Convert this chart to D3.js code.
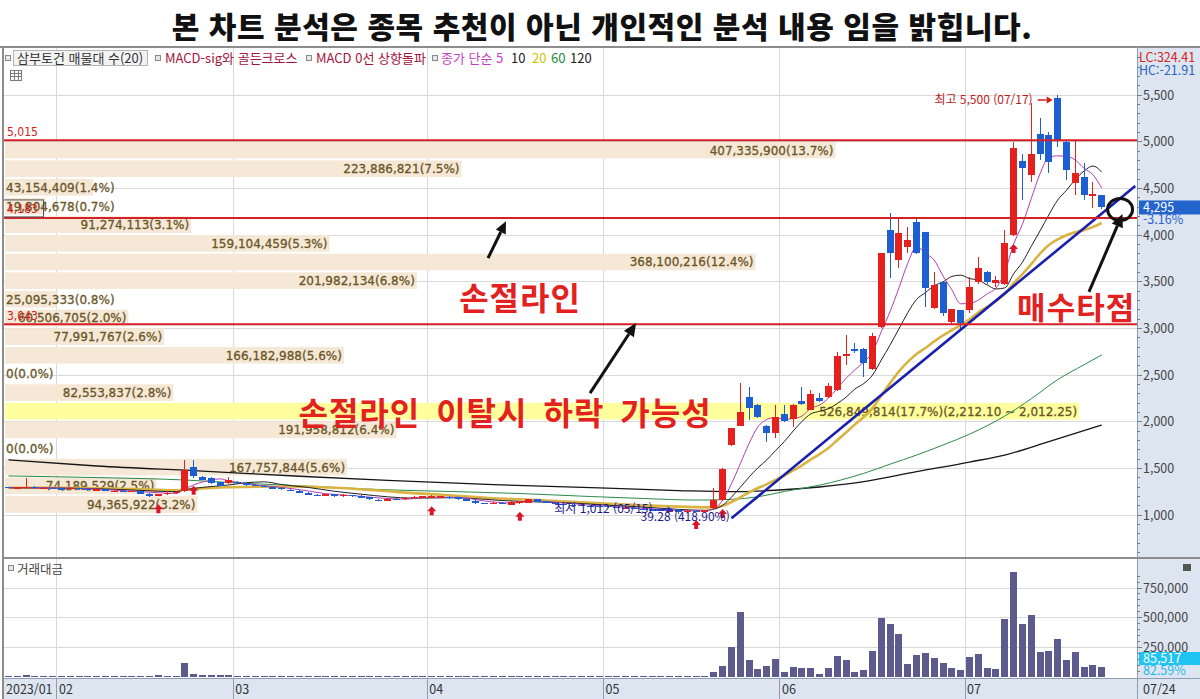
<!DOCTYPE html>
<html lang="ko"><head><meta charset="utf-8"><title>삼부토건 차트</title>
<script src="https://cdn.jsdelivr.net/npm/d3@7/dist/d3.min.js"></script>
<style>
html,body{margin:0;padding:0;background:#fff;overflow:hidden}
svg{display:block}
text{font-family:"Noto Sans CJK KR","Noto Sans",sans-serif}
</style></head>
<body><svg id="chart" width="1200" height="699"></svg>
<script>
// ================= DATA =================
const dates = [
"01/20","01/25","01/26","01/27","01/30","01/31",
"02/01","02/02","02/03","02/06","02/07","02/08","02/09","02/10","02/13","02/14","02/15","02/16","02/17","02/20","02/21","02/22","02/23","02/24","02/27","02/28",
"03/02","03/03","03/06","03/07","03/08","03/09","03/10","03/13","03/14","03/15","03/16","03/17","03/20","03/21","03/22","03/23","03/24","03/27","03/28","03/29","03/30","03/31",
"04/03","04/04","04/05","04/06","04/07","04/10","04/11","04/12","04/13","04/14","04/17","04/18","04/19","04/20","04/21","04/24","04/25","04/26","04/27","04/28",
"05/02","05/03","05/04","05/08","05/09","05/10","05/11","05/12","05/15","05/16","05/17","05/18","05/19","05/22","05/23","05/24","05/25","05/26","05/30","05/31",
"06/01","06/02","06/05","06/07","06/08","06/09","06/12","06/13","06/14","06/15","06/16","06/19","06/20","06/21","06/22","06/23","06/26","06/27","06/28","06/29","06/30",
"07/03","07/04","07/05","07/06","07/07","07/10","07/11","07/12","07/13","07/14","07/17","07/18","07/19","07/20","07/21","07/24"];

const open = [
1298,1292,1295,1300,1290,1294,
1285,1280,1290,1278,1268,1275,1262,1262,1250,1255,1228,1205,1220,1235,1260,1517,1410,1400,1350,1340,
1357,1340,1320,1315,1296,1290,1272,1260,1240,1215,1205,1220,1200,1215,1205,1195,1162,1150,1175,1170,1180,1186,
1186,1188,1196,1196,1168,1153,1126,1118,1130,1107,1125,1132,1168,1150,1132,1118,1110,1108,1100,1095,
1095,1085,1075,1080,1068,1060,1058,1045,1050,1040,1048,1040,1075,1160,1745,1953,2263,2178,1953,1878,
2082,2028,2220,2124,2253,2263,2338,2702,2777,2777,2563,3013,4051,3730,3870,4137,4030,3216,3495,3066,3195,
3195,3495,3602,3484,3473,4000,4790,4640,5079,5068,5465,4994,4555,4619,4426,4426];
const high = [
1305,1300,1396,1306,1300,1298,
1292,1295,1292,1282,1282,1278,1270,1265,1262,1258,1232,1228,1262,1258,1590,1589,1415,1405,1355,1410,
1362,1345,1328,1320,1305,1295,1282,1265,1245,1225,1225,1225,1220,1218,1210,1198,1172,1178,1185,1188,1200,1205,
1210,1208,1200,1198,1172,1158,1132,1138,1135,1148,1155,1172,1172,1152,1135,1122,1115,1112,1105,1100,
1098,1090,1088,1082,1072,1065,1060,1058,1055,1052,1050,1055,1289,1500,1937,2413,2370,2190,1960,2178,
2178,2190,2370,2338,2306,2413,2745,2927,2840,2790,2948,3805,4233,4180,4084,4170,4030,3602,3500,3210,3200,
3548,3760,3610,3560,4051,4994,4865,5411,5250,5104,5500,5010,5010,4769,4565,4430];
const low = [
1288,1285,1288,1285,1282,1278,
1275,1275,1270,1262,1262,1258,1255,1245,1245,1220,1198,1200,1215,1228,1250,1400,1375,1335,1310,1335,
1338,1315,1310,1295,1288,1270,1262,1235,1210,1205,1200,1195,1195,1195,1180,1165,1150,1145,1158,1165,1175,1182,
1180,1185,1175,1162,1148,1120,1118,1115,1115,1105,1120,1130,1138,1128,1110,1105,1100,1095,1090,1085,
1080,1070,1070,1062,1055,1052,1040,1040,1012,1035,1032,1035,1065,1150,1740,1950,2017,2038,1781,1824,
2000,1942,2180,2120,2215,2255,2330,2606,2740,2477,2550,3000,3538,3645,3805,3800,3227,3210,3130,3050,2985,
3160,3480,3480,3440,3460,3990,4372,4565,4800,4662,4940,4590,4426,4373,4287,4280];
const close = [
1292,1296,1300,1290,1294,1282,
1280,1290,1275,1268,1275,1262,1262,1250,1258,1225,1205,1222,1235,1250,1482,1420,1380,1340,1315,1375,
1342,1320,1315,1300,1293,1275,1270,1240,1215,1213,1220,1200,1215,1200,1185,1172,1160,1170,1165,1182,1195,1200,
1202,1200,1180,1168,1153,1125,1125,1132,1120,1143,1150,1168,1143,1132,1115,1110,1108,1100,1095,1090,
1085,1075,1080,1068,1060,1058,1045,1050,1040,1048,1040,1050,1160,1490,1937,2103,2146,2050,1878,2050,
2007,2178,2188,2295,2220,2381,2702,2724,2755,2627,2916,3805,3805,4019,3944,3805,3430,3462,3163,3206,3056,
3441,3645,3495,3516,3912,4930,4715,4865,4865,4780,5015,4694,4662,4426,4435,4295];

// 거래대금
const volume = [
9000,8000,14000,8000,7000,8000,
8000,7000,8000,7000,8000,7000,6000,8000,7000,9000,10000,14000,9000,10000,118000,28000,16000,15000,15000,18000,
9000,8000,7000,8000,7000,8000,7000,8000,9000,7000,8000,7000,8000,7000,8000,9000,8000,7000,8000,7000,8000,9000,
8000,7000,8000,7000,8000,7000,8000,7000,9000,8000,7000,8000,7000,8000,9000,8000,7000,8000,7000,8000,
8000,7000,8000,9000,8000,7000,8000,7000,8000,9000,8000,7000,46000,90000,256000,547000,142000,67000,90000,154000,
38000,81000,73000,73000,29000,73000,177000,142000,46000,58000,215000,500000,448000,360000,108000,186000,203000,160000,116000,73000,58000,
169000,195000,73000,64000,491000,884000,448000,526000,212000,221000,317000,142000,212000,81000,99000,85517];

// 종가 단순 이동평균
const ma5 = [["01/20",1292],["01/31",1290],["02/07",1278],["02/14",1250],["02/20",1232],["02/21",1279],["02/22",1322],["02/23",1353],["02/24",1374],["02/27",1387],["02/28",1366],["03/02",1350],["03/06",1322],["03/08",1305],["03/13",1272],["03/16",1228],["03/21",1208],["03/24",1183],["03/29",1170],["04/03",1190],["04/06",1190],["04/11",1150],["04/14",1129],["04/19",1148],["04/24",1130],["04/27",1104],["05/04",1083],["05/11",1060],["05/16",1046],["05/18",1046],
["05/19",1068],["05/22",1158],["05/23",1335],["05/24",1548],["05/25",1767],["05/26",1945],["05/30",2023],["05/31",2045],["06/01",2026],["06/02",2033],["06/05",2060],["06/07",2144],["06/08",2178],["06/09",2252],["06/12",2357],["06/13",2464],["06/14",2556],["06/15",2638],["06/16",2745],["06/19",2965],["06/20",3182],["06/21",3434],["06/22",3698],["06/23",3876],["06/26",3801],["06/27",3732],["06/28",3561],["06/29",3413],["06/30",3263],["07/03",3266],["07/04",3302],["07/05",3369],["07/06",3431],["07/07",3602],["07/10",3900],["07/11",4114],["07/12",4388],["07/13",4657],["07/14",4831],["07/17",4848],["07/18",4844],["07/19",4803],["07/20",4715],["07/21",4646],["07/24",4502]];
const ma10 = [["01/20",1292],["02/06",1284],["02/13",1268],["02/20",1250],["02/21",1270],["02/23",1296],["02/28",1322],["03/03",1346],["03/07",1355],["03/09",1326],["03/14",1295],["03/17",1254],["03/22",1223],["03/27",1195],["03/30",1180],["04/05",1185],["04/10",1175],["04/13",1155],["04/19",1140],["04/25",1128],["05/02",1105],["05/09",1085],["05/15",1060],["05/18",1050],
["05/19",1062],["05/22",1104],["05/23",1192],["05/24",1296],["05/25",1406],["05/26",1506],["05/30",1590],["05/31",1690],["06/01",1787],["06/02",1900],["06/05",2003],["06/07",2083],["06/08",2112],["06/09",2139],["06/12",2195],["06/13",2262],["06/14",2350],["06/15",2408],["06/16",2499],["06/19",2661],["06/20",2823],["06/21",2995],["06/22",3168],["06/23",3310],["06/26",3383],["06/27",3457],["06/28",3498],["06/29",3556],["06/30",3570],["07/03",3533],["07/04",3517],["07/05",3465],["07/06",3422],["07/07",3433],["07/10",3583],["07/11",3708],["07/12",3878],["07/13",4044],["07/14",4216],["07/17",4374],["07/18",4479],["07/19",4595],["07/20",4686],["07/21",4739],["07/24",4675]];
const ma20 = [["01/20",1292],["02/03",1290],["02/13",1278],["02/20",1265],["02/22",1280],["02/27",1295],["03/06",1303],["03/10",1305],["03/17",1292],["03/23",1269],["03/29",1240],["04/05",1212],["04/12",1180],["04/19",1160],["04/26",1135],["05/04",1112],["05/12",1092],["05/18",1082],
["05/19",1080],["05/22",1098],["05/23",1139],["05/24",1189],["05/25",1241],["05/26",1289],["05/30",1328],["05/31",1376],["06/01",1422],["06/02",1477],["06/05",1532],["06/07",1594],["06/08",1652],["06/09",1718],["06/12",1801],["06/13",1884],["06/14",1970],["06/15",2049],["06/16",2143],["06/19",2281],["06/20",2413],["06/21",2539],["06/22",2640],["06/23",2725],["06/26",2789],["06/27",2860],["06/28",2924],["06/29",2982],["06/30",3034],["07/03",3097],["07/04",3170],["07/05",3230],["07/06",3295],["07/07",3371],["07/10",3483],["07/11",3582],["07/12",3688],["07/13",3800],["07/14",3893],["07/17",3953],["07/18",3998],["07/19",4030],["07/20",4054],["07/21",4086],["07/24",4129]];
const ma60 = [["01/20",1418],["02/07",1401],["02/21",1375],["03/02",1343],["03/15",1305],["03/24",1273],["04/05",1252],["04/17",1230],["04/27",1198],["05/09",1177],["05/17",1160],["05/23",1168],["05/26",1195],["06/01",1252],["06/08",1320],["06/15",1446],["06/20",1545],["06/23",1642],["06/28",1750],["07/03",1866],["07/07",2060],["07/12",2245],["07/17",2450],["07/20",2610],["07/24",2715]];
const ma120 = [["01/20",1590],["02/07",1525],["02/23",1470],["03/13",1415],["03/27",1370],["04/12",1325],["04/28",1290],["05/15",1262],["05/23",1250],["05/31",1265],["06/08",1300],["06/15",1357],["06/23",1464],["07/03",1567],["07/07",1642],["07/14",1785],["07/24",1964]];

// 매물대 (volume profile), bottom band first
const profileVol = [94365922,74189529,167757844,0,191958812,526849814,82553837,0,166182988,77991767,60506705,25095333,201982134,368100216,159104459,91274113,19804678,43154409,223886821,407335900];
const profilePct = ["3.2","2.5","5.6","0.0","6.4","17.7","2.8","0.0","5.6","2.6","2.0","0.8","6.8","12.4","5.3","3.1","0.7","1.4","7.5","13.7"];
const profileBase = 1013.0, profileStep = 199.85;

const priceTicks = [1000,1500,2000,2500,3000,3500,4000,4500,5000,5500];
const volTicks = [250000,500000,750000];
const months = [["01/20","2023/01"],["02/01","02"],["03/02","03"],["04/03","04"],["05/02","05"],["06/01","06"],["07/03","07"]];
const supportLevels = [5015,4183,3043];
const signalDates = ["02/16","02/22","04/03","04/17","05/17","05/22","07/10"];
const trendLine = [[82.5,965],[128.3,4525]];          // [slot position, price]
const lastClose = 4295, lastChange = "-3.16%", lastVol = 85517, volRatio = "82.59%";
const highInfo = {date:"07/17", price:5500}, lowInfo = {date:"05/15", price:1012};

// ================= LAYOUT =================
const W = 1200, H = 699;
const L = 4.1, R = 1137, TOP = 47, MAIN_B = 557, VOL_T = 559, VOL_B = 678;
const slot = (R - L) / 128.5;
const x = d3.scaleBand().domain(dates).range([L, L + dates.length * slot]);
const xs = d3.scaleLinear().domain([0, dates.length]).range([L, L + dates.length * slot]);
const xc = d => x(d) + x.bandwidth() / 2;
const y = d3.scaleLinear().domain([1000, 5500]).range([515, 95]);
const yv = d3.scaleLinear().domain([0, 750000]).range([677, 588]);
const fmt = d3.format(",");
const RED = "#e5211d", BLUE = "#1d5fd3";
const AX = '"DejaVu Sans Condensed","Liberation Sans Narrow","Liberation Sans",sans-serif';

const svg = d3.select("#chart");
const defs = svg.append("defs");
defs.append("clipPath").attr("id","mainClip").append("rect").attr("x",L).attr("y",TOP).attr("width",R-L).attr("height",MAIN_B-TOP);

svg.append("rect").attr("width",W).attr("height",H).attr("fill","#fff");

// title
svg.append("text").attr("x",602).attr("y",38).attr("text-anchor","middle")
  .attr("font-size",30).attr("font-weight",900).attr("fill","#111").attr("letter-spacing",0.55)
  .text("본 차트 분석은 종목 추천이 아닌 개인적인 분석 내용 임을 밝힙니다.");

// axis backgrounds
svg.append("rect").attr("x",R).attr("y",TOP).attr("width",W-R).attr("height",H-TOP).attr("fill","#dce5f0");
svg.append("rect").attr("x",3).attr("y",VOL_B).attr("width",W-3).attr("height",H-VOL_B).attr("fill","#dce5f0");

// grid
const grid = svg.append("g").attr("stroke","#d9d9d9").attr("stroke-width",1).attr("shape-rendering","crispEdges");
priceTicks.forEach(t => grid.append("line").attr("x1",L).attr("x2",R).attr("y1",y(t)).attr("y2",y(t)));
volTicks.forEach(t => grid.append("line").attr("x1",L).attr("x2",R).attr("y1",yv(t)).attr("y2",yv(t)));
months.slice(1).forEach(m => grid.append("line").attr("x1",x(m[0])).attr("x2",x(m[0])).attr("y1",TOP).attr("y2",VOL_B));

// ---- volume profile
const prof = svg.append("g");
const pw = d3.scaleLinear().domain([0, d3.max(profileVol)]).range([0, 1074]);
const maxK = profileVol.indexOf(d3.max(profileVol));
profileVol.forEach((v,k) => {
  const lo = profileBase + k*profileStep, hi = lo + profileStep;
  prof.append("rect").attr("x",L+1).attr("y",y(hi)+1).attr("width",pw(v)).attr("height",y(lo)-y(hi)-2)
    .attr("fill", k===maxK ? "#ffff9e" : "#f6e8d6");
});
const profLab = svg.append("g").attr("font-size",12)
  .attr("fill","#6a5628").attr("stroke","#6a5628").attr("stroke-width",0.3);
profileVol.forEach((v,k) => {
  const lo = profileBase + k*profileStep, hi = lo + profileStep;
  let label = fmt(v) + "(" + profilePct[k] + "%)";
  if (k === maxK) label += "(" + d3.format(",.2f")(hi) + " ~ " + d3.format(",.2f")(lo) + ")";
  const end = L + 1 + pw(v);
  const t = profLab.append("text").attr("x",end-2).attr("y",(y(hi)+y(lo))/2+4.5).attr("text-anchor","end")
    .style("font-family",'"DejaVu Sans",sans-serif').text(label);
  const len = t.node().getComputedTextLength();
  if (end - 2 - len < 6) t.attr("x",6).attr("text-anchor","start");
});

// ---- moving averages
const main = svg.append("g").attr("clip-path","url(#mainClip)");
const maLine = d3.line().x(d => xc(d[0])).y(d => y(d[1])).curve(d3.curveMonotoneX);
[[ma120,"#161616",1.3],[ma60,"#2b8a48",1],[ma20,"#d9b443",2.6],[ma10,"#222",1],[ma5,"#b43cb4",1]].forEach(([data,c,w]) =>
  main.append("path").attr("d",maLine(data)).attr("fill","none").attr("stroke",c).attr("stroke-width",w));

// ---- candles
const cg = main.append("g").attr("shape-rendering","crispEdges");
dates.forEach((d,i) => {
  const up = close[i] >= open[i];
  const col = up ? RED : BLUE;
  const left = Math.round(xc(d) - 3.5);
  cg.append("line").attr("x1",left+3.5).attr("x2",left+3.5).attr("y1",y(high[i])).attr("y2",y(low[i])).attr("stroke",col).attr("stroke-width",1);
  const yt = y(Math.max(open[i],close[i])), yb = y(Math.min(open[i],close[i]));
  cg.append("rect").attr("x",left).attr("width",7).attr("y",yt).attr("height",Math.max(1.2,yb-yt)).attr("fill",col);
});

// ---- support / resistance lines
const lev = svg.append("g");
supportLevels.forEach(p => {
  lev.append("line").attr("x1",L).attr("x2",R).attr("y1",y(p)).attr("y2",y(p)).attr("stroke","#d71f26").attr("stroke-width",2);
  lev.append("text").attr("x",7).attr("y",y(p)-4.5).attr("font-size",12).attr("fill","#d02020").style("font-family",AX).text(fmt(p));
});
lev.append("rect").attr("x",3.5).attr("y",y(4183)-18).attr("width",40).attr("height",17).attr("fill","none").attr("stroke","#555").attr("stroke-width",1);

// ---- trend line
main.append("line").attr("x1",xs(trendLine[0][0])).attr("y1",y(trendLine[0][1]))
  .attr("x2",xs(trendLine[1][0])).attr("y2",y(trendLine[1][1])).attr("stroke","#1b1fae").attr("stroke-width",2.6);

// ---- signal arrows
const sg = svg.append("g").attr("fill","#d8182a");
signalDates.forEach(d => {
  const i = dates.indexOf(d), cx = xc(d), t = y(low[i]) + 8;
  sg.append("path").attr("d",`M${cx},${t}L${cx+4.5},${t+5}L${cx+2},${t+5}L${cx+2},${t+9}L${cx-2},${t+9}L${cx-2},${t+5}L${cx-4.5},${t+5}Z`);
});

// ---- helper arrow
function arrow(g,x1,y1,x2,y2,color,w,hl,hw){
  const a = Math.atan2(y2-y1,x2-x1), bx = x2-hl*Math.cos(a), by = y2-hl*Math.sin(a);
  g.append("line").attr("x1",x1).attr("y1",y1).attr("x2",bx).attr("y2",by).attr("stroke",color).attr("stroke-width",w);
  const px = -Math.sin(a)*hw/2, py = Math.cos(a)*hw/2;
  g.append("path").attr("d",`M${x2},${y2}L${bx+px},${by+py}L${bx-px},${by-py}Z`).attr("fill",color);
}

// ---- high / low notes
const notes = svg.append("g").attr("font-size",12);
{
  const cx = xc(highInfo.date), yy = y(highInfo.price);
  notes.append("text").attr("x",cx-25).attr("y",yy+9).attr("text-anchor","end").attr("fill","#b81c1c")
    .text("최고 " + fmt(highInfo.price) + " (" + highInfo.date + ")");
  arrow(notes,cx-20,yy+5,cx-5,yy+5,"#d41c1c",1.5,6,7);
}
{
  const cx = xc(lowInfo.date), yy = y(lowInfo.price);
  notes.append("text").attr("x",cx-26).attr("y",yy-1).attr("text-anchor","end").attr("fill","#1a1a8c")
    .text("최저 " + fmt(lowInfo.price) + " (" + lowInfo.date + ")");
  arrow(notes,cx-24,yy-4,cx-5,yy-4,"#2030c8",1.5,6,7);
  notes.append("text").attr("x",cx-38).attr("y",yy+7).attr("fill","#1a1a8c").text("39.28 (418.90%)");
}

// ---- annotations
const ann = svg.append("g");
ann.append("ellipse").attr("cx",xs(126.58)).attr("cy",y(4273)).attr("rx",12.5).attr("ry",11)
  .attr("fill","none").attr("stroke","#111").attr("stroke-width",3);
arrow(ann,xs(54.89),y(3752),xs(56.93),y(4148),"#111",3,12,11);
arrow(ann,xs(66.46),y(2306),xs(71.68),y(3056),"#111",3,13,12);
arrow(ann,xs(123.05),y(3390),xs(126.85),y(4225),"#111",3,13,12);
const big = ann.append("g").attr("fill","#e3211f").attr("font-weight",700).attr("text-anchor","middle");
big.append("text").attr("x",xs(58.52)).attr("y",y(3200)).attr("font-size",32).attr("letter-spacing",1).text("손절라인");
big.append("text").attr("x",xs(56.82)).attr("y",y(1968)).attr("font-size",32).attr("letter-spacing",1).attr("word-spacing",6).text("손절라인 이탈시 하락 가능성");
big.append("text").attr("x",xs(121.6)).attr("y",y(3095)).attr("font-size",31).attr("letter-spacing",1).text("매수타점");

// ---- frame lines
const fr = svg.append("g").attr("stroke","#8c8c8c").attr("shape-rendering","crispEdges");
fr.append("line").attr("x1",0).attr("x2",W).attr("y1",TOP-0.5).attr("y2",TOP-0.5).attr("stroke-width",2);
fr.append("line").attr("x1",3).attr("x2",3).attr("y1",TOP).attr("y2",H).attr("stroke-width",2);
fr.append("line").attr("x1",3).attr("x2",W).attr("y1",MAIN_B+1).attr("y2",MAIN_B+1).attr("stroke-width",2);
fr.append("line").attr("x1",3).attr("x2",W).attr("y1",VOL_B+0.5).attr("y2",VOL_B+0.5).attr("stroke","#8d9db2");
fr.append("line").attr("x1",R+0.5).attr("x2",R+0.5).attr("y1",TOP).attr("y2",H).attr("stroke","#8d9db2");

// ---- volume bars
const vg = svg.append("g").attr("fill","#5d5b8e").attr("shape-rendering","crispEdges");
dates.forEach((d,i) => {
  const left = Math.round(xc(d) - 3.5);
  vg.append("rect").attr("x",left).attr("width",7).attr("y",yv(volume[i])).attr("height",yv(0)-yv(volume[i]));
});

// ---- legend
const lg = svg.append("g").attr("font-size",13);
lg.append("rect").attr("x",13.5).attr("y",50.5).attr("width",134).attr("height",15).attr("fill","#f3f3f3").attr("stroke","#b4b4b4");
const legendItems = [
  {t:"삼부토건 매물대 수(20)", c:"#333", x:17, m:5},
  {t:"MACD-sig와 골든크로스", c:"#a3143e", x:165, m:155},
  {t:"MACD 0선 상향돌파", c:"#a3143e", x:316, m:306},
  {t:"종가 단순 5", c:"#c23fc2", x:441, m:432},
  {t:"10", c:"#222", x:511},
  {t:"20", c:"#d2c200", x:532},
  {t:"60", c:"#1f8a3c", x:551},
  {t:"120", c:"#222", x:570}];
legendItems.forEach(it => {
  if (it.m !== undefined) lg.append("rect").attr("x",it.m+0.5).attr("y",55.5).attr("width",5).attr("height",5).attr("fill","#e6e6e6").attr("stroke","#8a8a8a");
  lg.append("text").attr("x",it.x).attr("y",62.5).attr("fill",it.c).text(it.t);
});
// table icon
const ic = svg.append("g").attr("stroke","#7a7a7a").attr("fill","none").attr("shape-rendering","crispEdges");
ic.append("rect").attr("x",10.5).attr("y",70.5).attr("width",11).attr("height",10).attr("fill","#fafafa");
[73.5,76.5].forEach(v => ic.append("line").attr("x1",10.5).attr("x2",21.5).attr("y1",v).attr("y2",v));
[14.5,18.5].forEach(v => ic.append("line").attr("x1",v).attr("x2",v).attr("y1",70.5).attr("y2",80.5));

// volume label
svg.append("rect").attr("x",8.5).attr("y",565.5).attr("width",5).attr("height",5).attr("fill","#e6e6e6").attr("stroke","#8a8a8a");
svg.append("text").attr("x",17).attr("y",574).attr("font-size",12.5).attr("fill","#444").text("거래대금");
svg.append("rect").attr("x",1183).attr("y",564).attr("width",8).attr("height",7).attr("fill","#555");

// ---- right price axis
const ra = svg.append("g").style("font-family",AX).attr("font-size",12.5).attr("fill","#444");
const tk = svg.append("g").attr("stroke","#6f7f94").attr("shape-rendering","crispEdges");
d3.range(600, 6000, 100).forEach(p => {
  const yy = y(p);
  if (yy < TOP + 2 || yy > MAIN_B - 1) return;
  const major = p % 500 === 0;
  tk.append("line").attr("x1",R).attr("x2",R + (major ? 5 : 3)).attr("y1",yy).attr("y2",yy);
});
priceTicks.forEach(t => ra.append("text").attr("x",1143).attr("y",y(t)+4.5).text(fmt(t)));
d3.range(50000, 900000, 50000).forEach(v => {
  const yy = yv(v);
  if (yy < VOL_T + 2) return;
  tk.append("line").attr("x1",R).attr("x2",R + (v % 250000 === 0 ? 5 : 3)).attr("y1",yy).attr("y2",yy);
});
volTicks.forEach(t => ra.append("text").attr("x",1143).attr("y",yv(t)+4.5).text(fmt(t)));

ra.append("text").attr("x",1139).attr("y",62).attr("fill","#d42424").text("LC:324.41");
ra.append("text").attr("x",1139).attr("y",75).attr("fill","#2a5fc0").text("HC:-21.91");

// current price box
ra.append("rect").attr("x",1139).attr("y",y(lastClose)-7).attr("width",61).attr("height",14).attr("fill","#2364cc");
ra.append("text").attr("x",1143).attr("y",y(lastClose)+4.5).attr("fill","#fff").text(fmt(lastClose));
ra.append("text").attr("x",1143).attr("y",y(lastClose)+17).attr("fill","#2a62d0").text(lastChange);

// current volume box
const vbY = Math.min(yv(lastVol), VOL_B - 19);
ra.append("rect").attr("x",1139).attr("y",vbY-7).attr("width",61).attr("height",13).attr("fill","#1fc4f2");
ra.append("text").attr("x",1143).attr("y",vbY+4).attr("fill","#fff").text(fmt(lastVol));
ra.append("text").attr("x",1143).attr("y",vbY+16).attr("fill","#1fb8ec").text(volRatio);

// ---- x axis labels
const xa = svg.append("g").style("font-family",AX).attr("font-size",12.5).attr("fill","#333");
const sep = svg.append("g").attr("stroke","#8d9db2").attr("shape-rendering","crispEdges");
months.forEach((m,k) => {
  const xx = k === 0 ? 6 : x(m[0]) + 2;
  if (k > 0) sep.append("line").attr("x1",x(m[0])).attr("x2",x(m[0])).attr("y1",VOL_B).attr("y2",H);
  xa.append("text").attr("x",xx).attr("y",694).text(m[1]);
});
xa.append("text").attr("x",1143).attr("y",694).text(dates[dates.length-1]);
</script></body></html>
